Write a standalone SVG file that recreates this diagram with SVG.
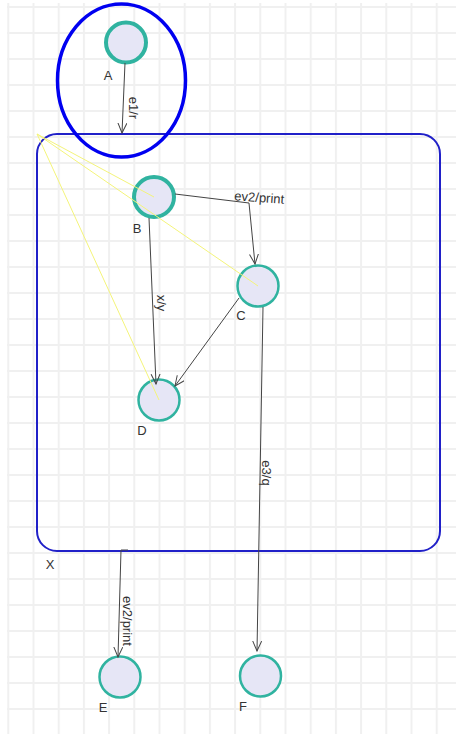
<svg xmlns="http://www.w3.org/2000/svg" width="456" height="734" viewBox="0 0 456 734">
<style>
.node{fill:#e6e6f6;stroke:#30b3a0;stroke-width:2.5}
.node.init{stroke-width:4}
.lbl{font-family:"Liberation Sans",Arial,sans-serif;font-size:13px;fill:#333}
.edge{fill:none;stroke:#444;stroke-width:1;marker-end:url(#arr)}
.guide{stroke:#f4f47a;stroke-width:1;fill:none}
</style>
<defs>
<pattern id="grid" x="7.3" y="6" width="25.2" height="26" patternUnits="userSpaceOnUse">
<path d="M1 0V26M0 1H25.2" stroke="#f0f0f0" stroke-width="2" fill="none"/>
</pattern>
<marker id="arr" markerUnits="userSpaceOnUse" markerWidth="12" markerHeight="12" refX="10" refY="5" orient="auto">
<path d="M0,0.5 L10,5 L0,9.5" fill="none" stroke="#444" stroke-width="1"/>
</marker>
</defs>
<rect width="456" height="734" fill="#fff"/>
<rect x="7" y="3" width="449" height="731" fill="url(#grid)"/>
<g id="X">
<rect x="37" y="134" width="403" height="417" rx="20" ry="20" fill="none" stroke="#2020c8" stroke-width="2"/>
<text class="lbl" x="50" y="569" text-anchor="middle">X</text>
</g>
<g id="A">
<circle class="node init" cx="126" cy="42.5" r="20"/>
<text class="lbl" x="108" y="80" text-anchor="middle">A</text>
</g>
<g id="B">
<circle class="node init" cx="154" cy="197" r="20"/>
<text class="lbl" x="137" y="233" text-anchor="middle">B</text>
</g>
<g id="C">
<circle class="node" cx="258" cy="286" r="20.5"/>
<text class="lbl" x="241" y="320" text-anchor="middle">C</text>
</g>
<g id="D">
<circle class="node" cx="159" cy="400" r="20.5"/>
<text class="lbl" x="142" y="435" text-anchor="middle">D</text>
</g>
<g id="E">
<circle class="node" cx="120" cy="677" r="20.5"/>
<text class="lbl" x="103" y="712" text-anchor="middle">E</text>
</g>
<g id="F">
<circle class="node" cx="260.5" cy="676" r="20.5"/>
<text class="lbl" x="243" y="711" text-anchor="middle">F</text>
</g>
<g id="guides">
<line class="guide" x1="37" y1="134" x2="154" y2="197"/>
<line class="guide" x1="37" y1="134" x2="258" y2="286"/>
<line class="guide" x1="37" y1="134" x2="159" y2="400"/>
</g>
<g id="connectors">
<path class="edge" d="M125,63 L122,133"/>
<text class="lbl" transform="translate(129,108) rotate(90)" text-anchor="middle" font-size="12">e1/r</text>
<path class="edge" d="M175,194 L249,203 L255,264"/>
<text class="lbl" transform="translate(259,202) rotate(4)" text-anchor="middle">ev2/print</text>
<path class="edge" d="M149,218 L156,384"/>
<text class="lbl" transform="translate(157,303) rotate(90)" text-anchor="middle">x/y</text>
<path class="edge" d="M239,298 L175,386"/>
<path class="edge" d="M263,307 L257,651"/>
<text class="lbl" transform="translate(262,473) rotate(90)" text-anchor="middle">e3/q</text>
<path class="edge" d="M128,550 L121,550 L118,657"/>
<text class="lbl" transform="translate(123,621) rotate(90)" text-anchor="middle">ev2/print</text>
</g>
<g id="highlight">
<ellipse cx="121.5" cy="80.5" rx="64" ry="76.5" fill="none" stroke="#0000f0" stroke-width="3.5"/>
</g>
</svg>
